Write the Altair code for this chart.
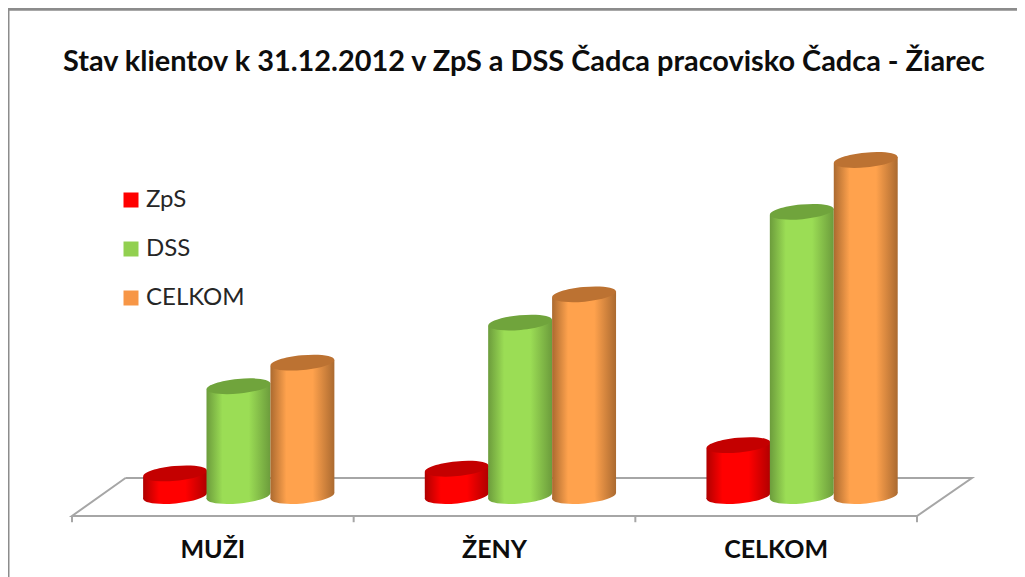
import altair as alt
import pandas as pd

TITLE = "Stav klientov k 31.12.2012 v ZpS a DSS Čadca pracovisko Čadca - Žiarec"
categories = ["MUŽI", "ŽENY", "CELKOM"]
series = ["ZpS", "DSS", "CELKOM"]
zps = [10, 12, 22]
dss = [47, 74, 121]
celkom = [57, 86, 143]
slot_offset = [0.366, 0.591, 0.818]
half_slot = 0.1135
tilt = 1.27
legend_colors = ["#ff0000", "#92d050", "#f79646"]
top_colors = ["#c40000", "#70a43c", "#bc7232"]
edge_colors = ["#b00000", "#6c9c3c", "#ab6a30"]
mid_colors = ["#ff0000", "#9bdd55", "#ffa24d"]
floor_x = [0.19, 0, 3, 3.195, 0.19]
floor_y = [8.06, -8.06, -8.06, 8.06, 8.06]
tick_x = [0, 1, 2, 3]
W, H = 1009, 569
x_lo, x_hi = -0.2272, 3.3550
y_lo, y_hi = -33.94, 207.47
x_scale = alt.Scale(domain=[x_lo, x_hi], range=[0, W], nice=False, zero=False)
y_scale = alt.Scale(domain=[y_lo, y_hi], range=[H, 0], nice=False, zero=False)
ELLIPSE = "M -1 0 A 1 0.23 0 1 1 1 0 A 1 0.23 0 1 1 -1 0 Z"
SIZE = 4096
ANGLE = 354.6

X = alt.X("x:Q", scale=x_scale, axis=None)
Y = alt.Y("y:Q", scale=y_scale, axis=None)


def gradient(edge, mid):
    return alt.LinearGradient(
        gradient="linear", x1=0, x2=1, y1=0, y2=0,
        stops=[
            alt.GradientStop(offset=0, color=edge),
            alt.GradientStop(offset=0.25, color=mid),
            alt.GradientStop(offset=0.66, color=mid),
            alt.GradientStop(offset=1, color=edge),
        ],
    )


layers = []

# chart frame
frame = pd.DataFrame({"x": [x_lo, x_lo, x_hi], "y": [y_lo, 206.9, 206.9]})
layers.append(alt.Chart(frame).mark_line(color="#8c8c8c", strokeWidth=3, clip=False, order=False).encode(x=X, y=Y))

# floor
floor = pd.DataFrame({"x": floor_x, "y": floor_y, "o": range(len(floor_x))})
layers.append(alt.Chart(floor).mark_line(color="#a6a6a6", strokeWidth=2).encode(x=X, y=Y, order="o:Q"))
ticks = pd.DataFrame({"x": tick_x, "y": [-8.06] * 4, "y2": [-10.7] * 4})
layers.append(alt.Chart(ticks).mark_rule(color="#a6a6a6", strokeWidth=2).encode(x=X, y=Y, y2="y2:Q"))

# category labels
labels = pd.DataFrame({"x": [0.5, 1.5, 2.5], "y": [-22.3] * 3, "t": categories})
layers.append(alt.Chart(labels).mark_text(font="Lato", fontSize=25, fontWeight="bold", color="#0d0d0d").encode(x=X, y=Y, text="t:N"))

# legend carrier
leg = pd.DataFrame({"x": [0, 0, 0], "y": [0, 0, 0], "s": series})
layers.append(
    alt.Chart(leg).mark_square(size=0, opacity=1).encode(
        x=X, y=Y,
        color=alt.Color(
            "s:N",
            scale=alt.Scale(domain=series, range=legend_colors),
            legend=alt.Legend(
                title=None, orient="none", legendX=111, legendY=180,
                symbolType="square", symbolSize=225, symbolOpacity=1, symbolStrokeWidth=0,
                labelFont="Lato", labelFontSize=24, labelColor="#262626", labelOffset=3,
                rowPadding=25, padding=0,
            ),
        ),
    )
)

# cylinders, left to right
for i in range(3):
    for j, vals in enumerate([zps, dss, celkom]):
        cx = i + slot_offset[j]
        v = vals[i]
        body = pd.DataFrame({
            "x": [cx - half_slot, cx + half_slot],
            "y": [v - tilt, v + tilt],
            "y2": [0.4 - tilt, 0.4 + tilt],
        })
        grad = gradient(edge_colors[j], mid_colors[j])
        base = pd.DataFrame({"x": [cx], "y": [0.4]})
        top = pd.DataFrame({"x": [cx], "y": [v]})
        layers.append(alt.Chart(base).mark_point(
            shape=ELLIPSE, size=SIZE, filled=True, fill=grad, opacity=1, strokeWidth=0, angle=ANGLE
        ).encode(x=X, y=Y))
        layers.append(alt.Chart(body).mark_area(fill=grad, opacity=1).encode(x=X, y=Y, y2="y2:Q"))
        layers.append(alt.Chart(top).mark_point(
            shape=ELLIPSE, size=SIZE, filled=True, fill=top_colors[j], opacity=1, strokeWidth=0, angle=ANGLE
        ).encode(x=X, y=Y))

chart = alt.layer(*layers).resolve_scale(color="independent").properties(
    width=W, height=H,
    padding=0,
    autosize=alt.AutoSizeParams(type="none"),
    title=alt.TitleParams(
        TITLE, font="Lato", fontSize=28.9, fontWeight="bold", color="#0d0d0d",
        anchor="start", frame="group", dx=55, dy=74, offset=0, baseline="top",
    ),
).configure_view(stroke=None).configure(background="white")

chart.save("out.html", embed_options={"renderer": "svg", "actions": False})
